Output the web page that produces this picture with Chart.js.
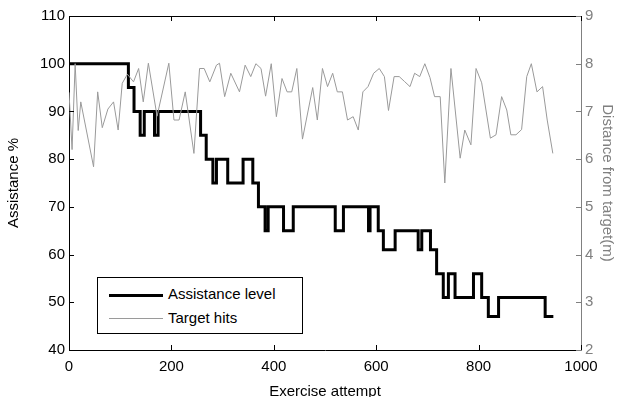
<!DOCTYPE html>
<html lang="en">
<head>
    <meta charset="UTF-8">
    <title>Assistance level and target hits</title>
    <script src="https://cdn.jsdelivr.net/npm/chart.js"></script>
    <style>
        html, body { margin: 0; padding: 0; background: #fff; }
        #wrap { position: relative; width: 618px; height: 397px; overflow: hidden; }
        #legend {
            position: absolute; left: 97px; top: 277px; width: 204px; height: 55px;
            border: 1px solid #000; background: #fff;
            font-family: "Liberation Sans", Arial, sans-serif; font-size: 15px; color: #000;
        }
        .row { position: absolute; left: 0; height: 20px; width: 100%; }
        .row .sample { position: absolute; left: 11px; width: 54px; top: 10px; }
        .row span { position: absolute; left: 70px; top: 1px; white-space: nowrap; }
    </style>
</head>
<body>
    <div id="wrap">
        <canvas id="chart" width="618" height="397"></canvas>
        <!-- legend sits inside the plot, bottom left -->
        <div id="legend">
            <div class="row" style="top:6px"><div class="sample" style="border-top:3px solid #000"></div><span>Assistance level</span></div>
            <div class="row" style="top:30px"><div class="sample" style="border-top:1px solid #9a9a9a"></div><span>Target hits</span></div>
        </div>
    </div>

    <script>
        // Assistance level (left axis), each value holds until the next attempt
        const levelX = [0, 116, 127, 139, 147, 167, 174, 257, 268, 281, 288, 310, 340, 359, 370, 383, 389, 419, 438, 520,
                        536, 585, 588, 604, 614, 637, 682, 689, 706, 718, 731, 741, 754, 790, 806, 819, 839, 930, 946];
        const levelY = [100, 95, 90, 85, 90, 85, 90, 85, 80, 75, 80, 75, 80, 75, 70, 65, 70, 65, 70, 65,
                        70, 65, 70, 65, 61, 65, 61, 65, 61, 56, 51, 56, 51, 56, 51, 47, 51, 47, 47];

        // Target hits, distance from target in m (right axis)
        const hitX = [0, 6, 12, 18, 23, 48, 56, 65, 76, 87, 96, 104, 114, 126, 136, 145, 155, 172, 195, 205,
                      215, 227, 244, 255, 264, 275, 288, 294, 304, 316, 333, 344, 355, 365, 375, 384, 395, 405, 416, 426,
                      435, 445, 456, 476, 485, 495, 505, 515, 524, 534, 544, 555, 565, 574, 584, 595, 606, 616, 624, 635,
                      645, 655, 666, 675, 685, 695, 705, 714, 725, 734, 746, 764, 773, 785, 795, 806, 823, 834, 845, 855,
                      863, 873, 884, 894, 903, 914, 925, 934, 945];
        const hitY = [7.4, 6.2, 8.0, 6.6, 7.2, 5.84, 7.41, 6.66, 7.05, 7.2, 6.61, 7.59, 7.78, 7.62, 7.9, 7.2, 8.01, 6.9, 8.01, 6.82,
                      6.82, 7.41, 6.12, 7.9, 7.9, 7.62, 7.97, 8.01, 7.31, 7.8, 7.41, 7.97, 7.73, 8.0, 7.9, 7.32, 8.0, 6.89, 7.69, 7.41,
                      7.41, 7.9, 6.42, 7.5, 6.82, 7.9, 7.52, 7.8, 7.41, 7.41, 6.82, 6.89, 6.61, 7.41, 7.52, 7.8, 7.9, 7.73, 7.02, 7.73,
                      7.73, 7.63, 7.52, 7.8, 7.73, 8.0, 7.71, 7.31, 7.31, 5.5, 7.9, 6.02, 6.61, 6.3, 7.9, 7.6, 6.44, 6.51, 7.31, 7.03,
                      6.51, 6.51, 6.62, 7.73, 8.0, 7.41, 7.52, 6.82, 6.12];

        const xTicks = [0, 200, 400, 600, 800, 1000];
        const leftTicks = [40, 50, 60, 70, 80, 90, 100, 110];
        const rightTicks = [2, 3, 4, 5, 6, 7, 8, 9];

        const FONT = { family: '"Liberation Sans", Arial, sans-serif', size: 15 };
        const GRAY = '#808080';

        // matlab style: ticks point inwards, box on top
        const insideTicks = {
            id: 'insideTicks',
            afterDraw(chart) {
                const { ctx, chartArea: a, scales } = chart;
                const len = 5;
                ctx.save();
                ctx.lineWidth = 1;
                ctx.strokeStyle = '#000';
                ctx.beginPath();
                ctx.moveTo(a.left, a.top + 0.5);
                ctx.lineTo(a.right, a.top + 0.5);
                scales.x.ticks.forEach(t => {
                    const px = Math.round(scales.x.getPixelForValue(t.value)) + 0.5;
                    ctx.moveTo(px, a.bottom); ctx.lineTo(px, a.bottom - len);
                    ctx.moveTo(px, a.top); ctx.lineTo(px, a.top + len);
                });
                scales.y.ticks.forEach(t => {
                    const py = Math.round(scales.y.getPixelForValue(t.value)) + 0.5;
                    ctx.moveTo(a.left, py); ctx.lineTo(a.left + len, py);
                });
                ctx.stroke();
                ctx.strokeStyle = GRAY;
                ctx.beginPath();
                scales.y1.ticks.forEach(t => {
                    const py = Math.round(scales.y1.getPixelForValue(t.value)) + 0.5;
                    ctx.moveTo(a.right, py); ctx.lineTo(a.right - len, py);
                });
                ctx.stroke();
                ctx.restore();
            }
        };

        new Chart(document.getElementById('chart'), {
            type: 'line',
            data: {
                datasets: [{
                    label: 'Target hits',
                    data: hitX.map((x, i) => ({ x: x, y: hitY[i] })),
                    yAxisID: 'y1',
                    borderColor: '#9a9a9a',
                    borderWidth: 1,
                    pointRadius: 0,
                    tension: 0
                }, {
                    label: 'Assistance level',
                    data: levelX.map((x, i) => ({ x: x, y: levelY[i] })),
                    yAxisID: 'y',
                    borderColor: '#000',
                    borderWidth: 3,
                    pointRadius: 0,
                    stepped: true
                }]
            },
            options: {
                responsive: false,
                animation: false,
                layout: { padding: { top: 16, left: 0, right: 0, bottom: 0 } },
                plugins: { legend: { display: false }, tooltip: { enabled: false } },
                scales: {
                    x: {
                        type: 'linear', min: 0, max: 1000,
                        afterBuildTicks: s => { s.ticks = xTicks.map(v => ({ value: v })); },
                        afterFit: s => { s.height = 47; },
                        grid: { drawOnChartArea: false, drawTicks: false },
                        border: { color: '#000', width: 1 },
                        ticks: { color: '#000', font: FONT, padding: 8, maxRotation: 0, callback: v => String(v) },
                        title: { display: true, text: 'Exercise attempt', color: '#000', font: FONT, padding: { top: 0, bottom: -4 } }
                    },
                    y: {
                        position: 'left', min: 40, max: 110,
                        afterBuildTicks: s => { s.ticks = leftTicks.map(v => ({ value: v })); },
                        afterFit: s => { s.width = 69; },
                        grid: { drawOnChartArea: false, drawTicks: false },
                        border: { color: '#000', width: 1 },
                        ticks: { color: '#000', font: FONT, padding: 4 },
                        title: { display: true, text: 'Assistance %', color: '#000', font: FONT, padding: { top: 5 } }
                    },
                    y1: {
                        position: 'right', min: 2, max: 9,
                        afterBuildTicks: s => { s.ticks = rightTicks.map(v => ({ value: v })); },
                        afterFit: s => { s.width = 37; },
                        grid: { drawOnChartArea: false, drawTicks: false },
                        border: { color: GRAY, width: 1 },
                        ticks: { color: GRAY, font: FONT, padding: 4 },
                        title: { display: true, text: 'Distance from target(m)', color: GRAY, font: FONT, padding: { top: 2 } }
                    }
                }
            },
            plugins: [insideTicks]
        });
    </script>
</body>
</html>
